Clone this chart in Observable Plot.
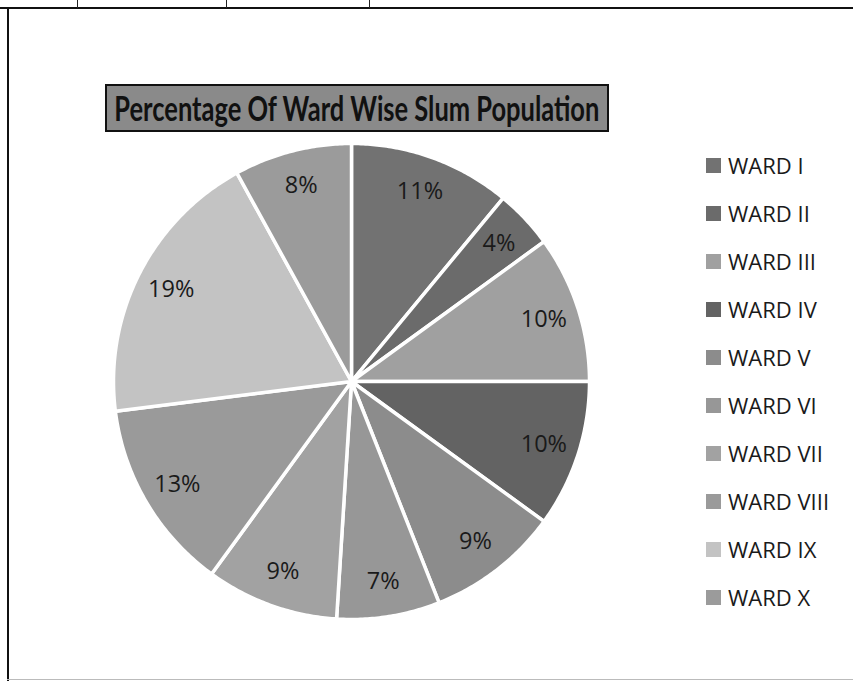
<!DOCTYPE html>
<html>
<head>
<meta charset="utf-8">
<script src="https://cdn.jsdelivr.net/npm/d3@7"></script>
<script src="https://cdn.jsdelivr.net/npm/@observablehq/plot@0.6"></script>
<style>
  html, body { margin: 0; padding: 0; background: #fff; }
  #wrap { position: relative; width: 853px; height: 681px; overflow: hidden; background: #fff; font-family: "Open Sans", sans-serif; }
  #plot { position: absolute; left: 0; top: 0; }
  .topline { position: absolute; left: 0; top: 7px; width: 853px; height: 2px; background: #111; }
  .leftline { position: absolute; left: 7px; top: 7px; width: 2px; height: 674px; background: #111; }
  .botline { position: absolute; left: 7px; top: 679px; width: 846px; height: 1px; background: #bbb; }
  .tick { position: absolute; top: 0; width: 1px; height: 8px; background: #222; }
  #title { position: absolute; left: 105px; top: 84px; width: 500px; height: 44px; background: #8a8a8a; border: 2px solid #111;
           display: flex; align-items: center; justify-content: center; overflow: hidden; }
  #title span { display: inline-block; font-family: Lato, "Open Sans", sans-serif; font-weight: 700; font-size: 34px; line-height: 44px; color: #111; white-space: nowrap; transform-origin: center center; }
  #legend { position: absolute; left: 706px; top: 0; }
  .item { position: absolute; left: 0; display: flex; align-items: center; white-space: nowrap; }
  .sw { width: 15px; height: 15px; margin-right: 7px; }
  .lab { font-size: 22px; color: #1a1a1a; }
</style>
</head>
<body>
<div id="wrap">
  <div class="topline"></div>
  <div class="tick" style="left:77px"></div>
  <div class="tick" style="left:226px"></div>
  <div class="tick" style="left:369px"></div>
  <div class="leftline"></div>
  <div class="botline"></div>
  <div id="plot"></div>
  <div id="title"><span id="titletext">Percentage Of Ward Wise Slum Population</span></div>
  <div id="legend"></div>
</div>
<script>
const titleText = "Percentage Of Ward Wise Slum Population";
const wards = ["WARD I", "WARD II", "WARD III", "WARD IV", "WARD V", "WARD VI", "WARD VII", "WARD VIII", "WARD IX", "WARD X"];
const percents = [11, 4, 10, 10, 9, 7, 9, 13, 19, 8];
const colors = ["#727272", "#6b6b6b", "#a0a0a0", "#636363", "#8c8c8c", "#979797", "#a2a2a2", "#9a9a9a", "#c3c3c3", "#9b9b9b"];

const data = wards.map((w, i) => ({ward: w, pct: percents[i]}));
const arcs = d3.pie().sort(null).value(d => d.pct)(data);

// slice outlines (unit circle), built from pie angles
const pts = [];
for (const a of arcs) {
  pts.push({ward: a.data.ward, x: 0, y: 0});
  const n = Math.max(2, Math.ceil((a.endAngle - a.startAngle) / 0.01));
  for (let k = 0; k <= n; k++) {
    const t = a.startAngle + (a.endAngle - a.startAngle) * k / n;
    pts.push({ward: a.data.ward, x: Math.sin(t), y: Math.cos(t)});
  }
}
const labels = arcs.map(a => {
  const m = (a.startAngle + a.endAngle) / 2;
  return {text: a.data.pct + "%", x: 0.85 * Math.sin(m), y: 0.85 * Math.cos(m)};
});

const chart = Plot.plot({
  width: 853,
  height: 681,
  margin: 0,
  style: {background: "transparent", fontFamily: "Open Sans, sans-serif"},
  x: {domain: [-1, 1], range: [113, 589], axis: null},
  y: {domain: [-1, 1], range: [619, 143], axis: null},
  color: {domain: wards, range: colors},
  marks: [
    Plot.line(pts, {x: "x", y: "y", z: "ward", fill: "ward", stroke: "white", strokeWidth: 3.5, strokeLinejoin: "round", curve: "linear-closed"}),
    Plot.text(labels, {x: "x", y: "y", text: "text", fontSize: 23.5, fill: "#1a1a1a"})
  ]
});
document.getElementById("plot").appendChild(chart);

// legend
const leg = document.getElementById("legend");
wards.forEach((w, i) => {
  const it = document.createElement("div");
  it.className = "item";
  it.style.top = (165 + i * 48 - 14) + "px";
  it.style.height = "28px";
  const sw = document.createElement("div");
  sw.className = "sw";
  sw.style.background = colors[i];
  const lb = document.createElement("span");
  lb.className = "lab";
  lb.textContent = w;
  it.appendChild(sw); it.appendChild(lb);
  leg.appendChild(it);
});

// fit title width
const tt = document.getElementById("titletext");
tt.textContent = titleText;
const w = tt.getBoundingClientRect().width;
tt.style.transform = "scaleX(" + (485 / w) + ")";
</script>
</body>
</html>
